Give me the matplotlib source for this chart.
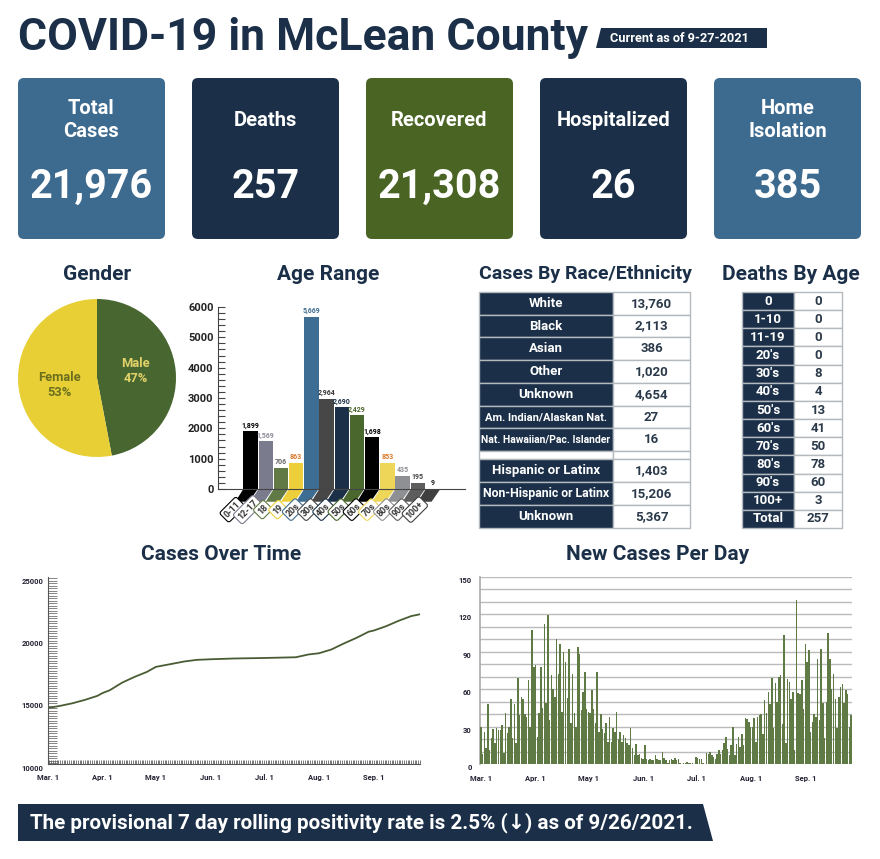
import numpy as np
import matplotlib
matplotlib.use("Agg")
import matplotlib.pyplot as plt
from matplotlib.patches import FancyBboxPatch, Polygon
from matplotlib.ticker import MultipleLocator, FixedLocator

W, H = 880, 859
NAVY = "#1b3048"
BLUE = "#3d6a8f"
GREEN = "#4a6424"
PIE_GREEN = "#48662f"
YELLOW = "#e8cf36"

plt.rcParams['font.family'] = ['Roboto', 'DejaVu Sans']

# cards
card_titles = ["Total\nCases", "Deaths", "Recovered", "Hospitalized", "Home\nIsolation"]
card_values = ["21,976", "257", "21,308", "26", "385"]
card_colors = [BLUE, NAVY, GREEN, NAVY, BLUE]

# gender
gender_labels = ["Male\n47%", "Female\n53%"]
gender_values = [47, 53]

# age range
age_labels = ["0-11", "12-17", "18", "19", "20s", "30s", "40s", "50s", "60s", "70s", "80s", "90s", "100+"]
age_values = [1899, 1569, 706, 863, 5669, 2964, 2690, 2429, 1698, 853, 435, 195, 9]
age_colors = ["#000000", "#7a7b8c", "#617a45", "#eccf3a", "#3d6d92", "#474747", "#1b3048",
              "#4a672e", "#000000", "#eed659", "#8f9094", "#5d5d5d", "#3f3f3f"]
age_text_colors = ["#000000", "#8a8b98", "#666666", "#d9792b", "#3d6d92", "#333333", NAVY,
                   "#4a672e", "#000000", "#d9792b", "#8f9094", "#444444", "#222222"]
age_ticks = [0, 1000, 2000, 3000, 4000, 5000, 6000]

# tables
race_labels = ["White", "Black", "Asian", "Other", "Unknown", "Am. Indian/Alaskan Nat.",
               "Nat. Hawaiian/Pac. Islander", "", "Hispanic or Latinx",
               "Non-Hispanic or Latinx", "Unknown"]
race_values = ["13,760", "2,113", "386", "1,020", "4,654", "27", "16", "", "1,403", "15,206", "5,367"]
death_labels = ["0", "1-10", "11-19", "20's", "30's", "40's", "50's", "60's", "70's", "80's",
                "90's", "100+", "Total"]
death_values = ["0", "0", "0", "0", "8", "4", "13", "41", "50", "78", "60", "3", "257"]

# cases over time (days since Mar. 1)
total_days = [0, 7, 14, 21, 28, 31, 35, 42, 49, 56, 61, 70, 77, 84, 92, 105, 122, 140, 147,
              153, 160, 167, 174, 181, 184, 191, 198, 205, 210]
total_cases = [14800, 14970, 15180, 15450, 15770, 16000, 16220, 16830, 17290, 17690, 18090,
               18330, 18520, 18650, 18700, 18760, 18800, 18860, 19080, 19180, 19480, 19960,
               20400, 20900, 21000, 21350, 21780, 22150, 22300]
total_ticks = [10000, 15000, 20000, 25000]

month_ticks = [0, 31, 61, 92, 122, 153, 184]
month_labels = ["Mar. 1", "Apr. 1", "May 1", "Jun. 1", "Jul. 1", "Aug. 1", "Sep. 1"]

# new cases per day, Mar. 1 to Sep. 27
new_cases = [30, 8, 26, 13, 48, 11, 21, 28, 17, 29, 27, 27, 31, 9, 41, 25, 30, 52, 21, 48,
             17, 69, 39, 54, 52, 40, 38, 67, 30, 107, 78,
             79, 22, 41, 78, 45, 112, 49, 119, 35, 71, 60, 54, 100, 72, 96, 42, 90, 82, 53, 92,
             33, 72, 41, 30, 94, 88, 43, 58, 74, 44,
             42, 41, 59, 44, 33, 74, 26, 40, 28, 25, 33, 18, 38, 18, 29, 26, 42, 20, 26, 18,
             23, 21, 17, 15, 29, 13, 7, 16, 7, 8, 5,
             4, 15, 4, 3, 4, 3, 3, 7, 4, 3, 3, 10, 5, 3, 1, 3, 4, 3, 5, 3,
             4, 1, 0, 1, 1, 2, 1, 1, 1, 0,
             6, 5, 4, 4, 1, 0, 9, 8, 10, 7, 6, 4, 8, 11, 8, 11, 17, 22, 12, 7, 15, 30, 7, 16, 22,
             14, 24, 15, 37, 36, 34,
             30, 30, 37, 18, 38, 39, 40, 24, 51, 41, 58, 48, 69, 29, 65, 50, 70, 71, 32, 103,
             17, 68, 66, 52, 58, 11, 131, 57, 56, 67, 44,
             96, 82, 91, 26, 34, 40, 38, 84, 35, 92, 49, 21, 50, 105, 84, 60, 72, 52, 29, 54,
             62, 64, 49, 59, 56, 30, 39]
new_ticks = [0, 30, 60, 90, 120, 150]


def px_axes(x0, y0, x1, y1, **kw):
    # axes placed by pixel box, y measured from the top
    return fig.add_axes([x0 / W, 1 - y1 / H, (x1 - x0) / W, (y1 - y0) / H], **kw)


def make_table(ax, labels, values, col_split, heights, sizes):
    ax.axis("off")
    rows = [[a, b] for a, b in zip(labels, values)]
    tb = ax.table(cellText=rows, colWidths=[col_split, 1 - col_split], bbox=[0, 0, 1, 1], cellLoc="center")
    tb.auto_set_font_size(False)
    for (r, c), cell in tb.get_celld().items():
        cell.set_height(heights[r])
        cell.set_edgecolor("#b4b9be")
        cell.set_linewidth(1)
        blank = labels[r] == ""
        cell.set_facecolor(NAVY if c == 0 and not blank else "white")
        txt = cell.get_text()
        txt.set_fontweight("bold")
        txt.set_color("white" if c == 0 else "#2b3a4a")
        txt.set_fontsize(sizes[r] if c == 0 else 9.5)
    return tb


fig = plt.figure(figsize=(W / 100, H / 100), dpi=100, facecolor="white")

# page level furniture
bg = fig.add_axes([0, 0, 1, 1], zorder=0)
bg.set_xlim(0, W)
bg.set_ylim(H, 0)
bg.axis("off")

bg.text(18, 38, "COVID-19 in McLean County", fontsize=32, fontweight="bold", color=NAVY, va="center")
bg.add_patch(Polygon([(601, 28), (767, 28), (767, 48), (596, 48)], fc=NAVY, ec="none"))
bg.text(610, 38, "Current as of 9-27-2021", fontsize=9.2, fontweight="bold", color="white", va="center")

for i in range(5):
    x = 18 + 174 * i
    bg.add_patch(FancyBboxPatch((x + 5, 83), 137, 151, boxstyle="round,pad=5,rounding_size=6",
                                fc=card_colors[i], ec="none"))
    bg.text(x + 73.5, 120, card_titles[i], fontsize=14.5, fontweight="bold", color="white",
            ha="center", va="center", linespacing=1.25)
    bg.text(x + 73.5, 183, card_values[i], fontsize=28.5, fontweight="bold", color="white",
            ha="center", va="center_baseline")

section_titles = ["Gender", "Age Range", "Cases By Race/Ethnicity", "Deaths By Age",
                  "Cases Over Time", "New Cases Per Day"]
section_x = [97, 328, 585, 791, 221, 658]
section_y = [274, 274, 274, 274, 555, 555]
section_sizes = [15, 15, 14, 15, 15, 15]
for t, x, y, fs in zip(section_titles, section_x, section_y, section_sizes):
    bg.text(x, y, t, fontsize=fs, fontweight="bold", color=NAVY, ha="center", va="center")

bg.add_patch(Polygon([(18, 804), (703, 804), (713, 841), (18, 841)], fc=NAVY, ec="none"))
bg.text(30, 823, "The provisional 7 day rolling positivity rate is 2.5% (↓) as of 9/26/2021.",
        fontsize=14.9, fontweight="bold", color="white", va="center")

# gender pie
ax = px_axes(18, 299, 176, 457, zorder=2)
ax.pie(gender_values, colors=[PIE_GREEN, YELLOW], startangle=90, counterclock=False, radius=1)
ax.set_xlim(-1, 1)
ax.set_ylim(-1, 1)
ax.text(0.49, 0.09, gender_labels[0], color="#e3d26a", fontsize=9.3, fontweight="bold", ha="center", va="center")
ax.text(-0.48, -0.09, gender_labels[1], color="#6b6f1e", fontsize=9.3, fontweight="bold", ha="center", va="center")

# age range bars
ax = px_axes(217.7, 307, 465, 489, zorder=2)
ax.patch.set_alpha(0)
xs = np.arange(len(age_values))
ax.bar(xs, age_values, width=0.95, color=age_colors)
ax.set_xlim(-2.16, 14.1)
ax.set_ylim(0, 6000)
for s in ["top", "right"]:
    ax.spines[s].set_visible(False)
ax.spines["left"].set_color("#444444")
ax.spines["bottom"].set_color("#444444")
ax.set_yticks(age_ticks)
ax.yaxis.set_minor_locator(MultipleLocator(200))
ax.tick_params(axis="y", which="both", direction="in", length=5, width=0.8, color="#444444",
               labelsize=8, labelcolor="#222222", pad=3)
ax.set_yticklabels([str(v) for v in age_ticks], fontweight="bold")
ax.set_xticks([])
for x, v, c, tc, lab in zip(xs, age_values, age_colors, age_text_colors, age_labels):
    # slanted stub under each bar, then the tilted label
    ax.add_patch(Polygon([(x - 0.475, 0), (x + 0.475, 0), (x - 0.1, -420), (x - 1.0, -420)],
                         fc=c, ec="none", clip_on=False))
    ax.text(x - 1.2, -680, lab, rotation=45, fontsize=6.5, fontweight="bold", color="#333333",
            ha="center", va="center", rotation_mode="anchor", clip_on=False,
            bbox=dict(boxstyle="round,pad=0.25", fc="white", ec=c, lw=0.8))
    ax.text(x, v + 60, f"{v:,}", fontsize=5, fontweight="bold", color=tc, ha="center", va="bottom")

# tables
ax = px_axes(479, 292, 690, 528, zorder=2)
race_heights = [22.7] * 7 + [8] + [22.9] * 3
race_sizes = [9.5] * 5 + [8, 7.5] + [9] + [9.5, 8.8, 9.5]
make_table(ax, race_labels, race_values, 134 / 211, race_heights, race_sizes)

ax = px_axes(742, 292, 842, 528, zorder=2)
make_table(ax, death_labels, death_values, 52 / 100, [18.15] * 13, [9.5] * 13)

# cases over time
ax = px_axes(47.7, 577, 420, 768, zorder=2)
ax.patch.set_alpha(0)
ax.plot(total_days, total_cases, color="#4a5c34", linewidth=1.3)
ax.set_xlim(0, 210)
ax.set_ylim(10000, 25280)
for s in ["top", "right"]:
    ax.spines[s].set_visible(False)
ax.spines["left"].set_bounds(10320, 25280)
ax.spines["left"].set_color("#555555")
ax.spines["bottom"].set_position(("data", 10320))
ax.spines["bottom"].set_color("#555555")
ax.set_xticks(month_ticks)
ax.xaxis.set_minor_locator(MultipleLocator(1))
ax.set_xticklabels(month_labels, fontweight="bold")
ax.set_yticks(total_ticks)
ax.yaxis.set_minor_locator(FixedLocator(np.arange(10400, 25400, 200)))
ax.tick_params(axis="x", which="both", direction="in", length=3, width=0.5, color="#444444",
               labelsize=5.5, labelcolor="#222233", pad=7)
ax.tick_params(axis="y", which="both", direction="in", length=6.5, width=0.5, color="#555555",
               labelsize=5.5, labelcolor="#222233", pad=3)
ax.set_yticklabels([str(v) for v in total_ticks], fontweight="bold")
ax.yaxis.get_major_ticks()[0].tick1line.set_visible(False)

# new cases per day
ax = px_axes(480, 576.7, 852, 764, zorder=2)
ax.patch.set_alpha(0)
days = np.arange(len(new_cases))
ax.bar(days, new_cases, width=0.85, color="#5f7a45", zorder=3)
ax.set_xlim(-0.5, len(new_cases) - 0.5)
ax.set_ylim(0, 150)
for s in ["top", "right", "bottom"]:
    ax.spines[s].set_visible(False)
ax.spines["left"].set_color("#aaaaaa")
ax.spines["left"].set_linewidth(1.2)
ax.set_yticks(new_ticks)
ax.yaxis.set_minor_locator(MultipleLocator(10))
ax.grid(axis="y", which="both", color="#bbbbbb", linewidth=1)
ax.set_axisbelow(True)
ax.set_xticks(month_ticks)
ax.set_xticklabels(month_labels, fontweight="bold")
ax.tick_params(axis="x", length=0, labelsize=5.5, labelcolor="#222233", pad=8)
ax.tick_params(axis="y", which="both", length=0, labelsize=5.5, labelcolor="#222233", pad=6)
ax.set_yticklabels([str(v) for v in new_ticks], fontweight="bold")
for lab in ax.get_yticklabels():
    lab.set_verticalalignment("top")

fig.savefig("out.png", dpi=100)
